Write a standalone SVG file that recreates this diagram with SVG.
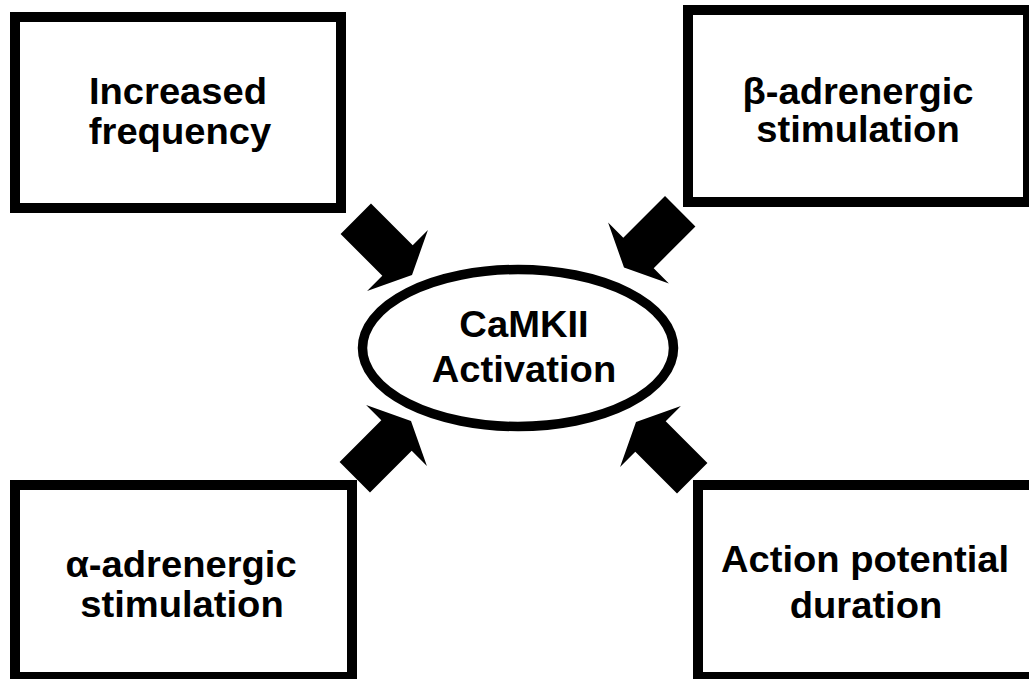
<svg xmlns="http://www.w3.org/2000/svg" width="1029" height="679" viewBox="0 0 1029 679">
<style>
.box{fill:#fff;stroke:#000;stroke-width:10}
.ell{fill:#fff;stroke:#000;stroke-width:9.5}
.lbl{font-family:"Liberation Sans",Arial,sans-serif;font-weight:bold;font-size:36px;fill:#000;text-anchor:middle}
.arr{fill:#000}
</style>
<defs>
<polygon id="arrow" points="0,0 -20.5,-43 -20.5,-21.5 -79.5,-21.5 -79.5,21.5 -20.5,21.5 -20.5,43"/>
</defs>
<rect x="0" y="0" width="1029" height="679" fill="#fff"/>
<g id="box-increased-frequency">
<rect class="box" x="15" y="17" width="326" height="191"/>
<g transform="translate(178,104) scale(1.06,1)"><text class="lbl" x="0" y="0">Increased</text></g>
<g transform="translate(180,144) scale(1.06,1)"><text class="lbl" x="0" y="0">frequency</text></g>
</g>
<g id="box-beta">
<rect class="box" x="688" y="10" width="340" height="192"/>
<g transform="translate(858,104) scale(1.06,1)"><text class="lbl" x="0" y="0">β-adrenergic</text></g>
<g transform="translate(858,142) scale(1.06,1)"><text class="lbl" x="0" y="0">stimulation</text></g>
</g>
<g id="box-alpha">
<rect class="box" x="15" y="485" width="337" height="192"/>
<g transform="translate(181,577) scale(1.06,1)"><text class="lbl" x="0" y="0">α-adrenergic</text></g>
<g transform="translate(182,617) scale(1.06,1)"><text class="lbl" x="0" y="0">stimulation</text></g>
</g>
<g id="box-apd">
<rect class="box" x="698" y="485" width="340" height="192"/>
<g transform="translate(865,572) scale(1.06,1)"><text class="lbl" x="0" y="0">Action potential</text></g>
<g transform="translate(866,618) scale(1.06,1)"><text class="lbl" x="0" y="0">duration</text></g>
</g>
<g id="connectors">
<use class="arr" href="#arrow" transform="translate(412,275) rotate(45)"/>
<use class="arr" href="#arrow" transform="translate(624,267.5) rotate(135)"/>
<use class="arr" href="#arrow" transform="translate(411,421) rotate(-45)"/>
<use class="arr" href="#arrow" transform="translate(636,422) rotate(-135)"/>
</g>
<g id="camkii">
<ellipse class="ell" cx="518" cy="348" rx="155.5" ry="78.5"/>
<g transform="translate(524,337) scale(1.06,1)"><text class="lbl" x="0" y="0">CaMKII</text></g>
<g transform="translate(524,382) scale(1.06,1)"><text class="lbl" x="0" y="0">Activation</text></g>
</g>
</svg>
